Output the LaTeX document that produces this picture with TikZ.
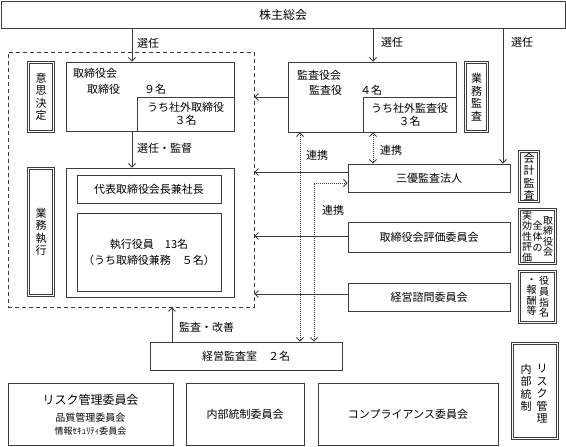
\documentclass[tikz,border=0pt]{standalone}
\usepackage{fontspec}
\setmainfont{Noto Sans CJK JP}
\usetikzlibrary{arrows.meta,calc,fit}
\definecolor{lc}{RGB}{60,60,60}
\begin{document}
\begin{tikzpicture}[x=1pt,y=-1pt,
  box/.style={draw=lc, line width=0.9pt, rectangle, inner sep=0pt},
  dbox/.style={draw=lc, double=white, double distance=1.6pt, line width=0.7pt, rectangle, inner sep=0pt},
  t/.style={font=\fontsize{11}{13}\selectfont, inner sep=0pt, text=black, align=center},
  big/.style={font=\fontsize{12}{14}\selectfont, inner sep=0pt, text=black, align=center},
  vt/.style={font=\fontsize{11}{12.5}\selectfont, align=center, inner sep=0pt},
  vs/.style={font=\fontsize{10}{10.6}\selectfont, align=center, inner sep=0pt},
  tip/.tip={Straight Barb[length=3.5pt,width=7pt,line width=0.8pt]},
  arr/.style={draw=lc, line width=0.8pt, -tip},
  darr/.style={draw=lc, line width=0.7pt, dash pattern=on 1pt off 1pt, tip-tip},
  dashbox/.style={draw=lc, line width=0.8pt, dash pattern=on 4pt off 3pt, rectangle, inner sep=0pt}
]
\useasboundingbox (0,0) rectangle (566,447);

% boxes
\node[box, fit={(1,1)(565,28)}] (sh) {};
\node[big] (shT) at (sh.center) {株主総会};
\node[dashbox, fit={(8,52)(254,307)}] (dash) {};

\node[dbox, fit={(28.5,62.5)(53.5,131.5)}] (ishi) {};
\node[vt] (ishiT) at (ishi.center) {意\\思\\決\\定};
\node[dbox, fit={(28.5,168.5)(53.5,295.5)}] (gsk) {};
\node[vt] (gskT) at (gsk.center) {業\\務\\執\\行};

\node[box, fit={(66,62)(234,131)}] (tori) {};
\node[box, fit={(137,97)(234,131)}] (torisha) {};
\node[t, anchor=west] (toriT1) at (73,73) {取締役会};
\node[t, anchor=west] (toriT2) at (87,89) {取締役};
\node[t, anchor=west] (toriT3) at (144,89) {９名};
\node[t] (torishaT) at (torisha.center) {うち社外取締役\\３名};

\node[box, fit={(66,168)(234,297)}] (exec) {};
\node[box, fit={(77,175)(221,203)}] (daihyo) {};
\node[t] (daihyoT) at (daihyo.center) {代表取締役会長兼社長};
\node[box, fit={(77,213)(221,291)}] (shikko) {};
\node[t, font=\fontsize{11}{16}\selectfont] (shikkoT) at (shikko.center) {執行役員　13名\\（うち取締役兼務　５名）};

\node[box, fit={(288,62)(456,132)}] (kansa) {};
\node[box, fit={(363,97)(456,132)}] (kansasha) {};
\node[t, anchor=west] (kansaT1) at (297,75) {監査役会};
\node[t, anchor=west] (kansaT2) at (309,90) {監査役};
\node[t, anchor=west] (kansaT3) at (360,90) {４名};
\node[t] (kansashaT) at (kansasha.center) {うち社外監査役\\３名};

\node[dbox, fit={(465.5,62.5)(487.5,131.5)}] (gkan) {};
\node[vt] (gkanT) at (gkan.center) {業\\務\\監\\査};

\node[box, fit={(348,164)(510,192)}] (sanyu) {};
\node[t] (sanyuT) at (sanyu.center) {三優監査法人};
\node[box, fit={(348,222)(510,252)}] (hyoka) {};
\node[t] (hyokaT) at (hyoka.center) {取締役会評価委員会};
\node[box, fit={(348,283)(510,311)}] (shimon) {};
\node[t] (shimonT) at (shimon.center) {経営諮問委員会};

\node[dbox, fit={(519.5,151.5)(538.5,201.5)}] (kaikei) {};
\node[vt] (kaikeiT) at (kaikei.center) {会\\計\\監\\査};

\node[dbox, fit={(519.5,209.5)(555.5,263.5)}] (jikko) {};
\node[vs] (jikkoA) at (548,236.5) {取\\締\\役\\会};
\node[vs] (jikkoB) at (537.5,236.5) {全\\体\\の};
\node[vs] (jikkoC) at (527,236.5) {実\\効\\性\\評\\価};

\node[dbox, fit={(519.5,271.5)(555.5,322.5)}] (yakuin) {};
\node[vs] (yakuinA) at (544,297) {役\\員\\指\\名};
\node[vs] (yakuinB) at (531.5,297) {・\\報\\酬\\等};

\node[dbox, fit={(512.5,343.5)(557.5,438.5)}] (riskb) {};
\node[vt, anchor=north] (riskA) at (542,364) {リ\\ス\\ク\\管\\理};
\node[vt, anchor=north] (riskB) at (526,364) {内\\部\\統\\制};

\node[box, fit={(150,342)(342,370)}] (keiei) {};
\node[t] (keieiT) at (keiei.center) {経営監査室　２名};

\node[box, fit={(8,383)(173,445)}] (riskc) {};
\node[big] (riskcT1) at (90.5,400) {リスク管理委員会};
\node[t, font=\fontsize{10}{11}\selectfont] (riskcT2) at (90.5,418) {品質管理委員会};
\node[t, font=\fontsize{9}{10}\selectfont] (riskcT3) at (90.5,431) {情報ｾｷｭﾘﾃｨ委員会};
\node[box, fit={(186,383)(304,445)}] (naibu) {};
\node[t] (naibuT) at (naibu.center) {内部統制委員会};
\node[box, fit={(318,383)(498,445)}] (comp) {};
\node[t] (compT) at (comp.center) {コンプライアンス委員会};

% helper coordinates
\coordinate (a1) at (132,0);
\coordinate (a2) at (373,0);
\coordinate (a3) at (503,0);
\coordinate (a4) at (172,0);
\coordinate (h1) at (0,97);
\coordinate (h2) at (0,172);
\coordinate (h3) at (0,236);
\coordinate (h4) at (0,294);
\coordinate (d1) at (300,0);
\coordinate (d2) at (314,183);

% solid arrows
\draw[arr] (sh.south -| a1) -- (tori.north -| a1);
\draw[arr] (tori.south -| a1) -- (exec.north -| a1);
\draw[arr] (sh.south -| a2) -- (kansa.north -| a2);
\draw[arr] (sh.south -| a3) -- (sanyu.north -| a3);
\draw[arr] (keiei.north -| a4) -- (dash.south -| a4);
\draw[arr] (kansa.west |- h1) -- (dash.east |- h1);
\draw[arr] (sanyu.west |- h2) -- (dash.east |- h2);
\draw[arr] (hyoka.west |- h3) -- (dash.east |- h3);
\draw[arr] (shimon.west |- h4) -- (dash.east |- h4);

% dotted
\draw[darr] (kansa.south -| d1) -- (keiei.north -| d1);
\draw[darr] (kansa.south -| a2) -- (sanyu.north -| a2);
\draw[darr] (sanyu.west |- d2) -- (d2) -- (keiei.north -| d2);

% labels
\node[t, anchor=west] (l1) at (137,43) {選任};
\node[t, anchor=west] (l2) at (381,42) {選任};
\node[t, anchor=west] (l3) at (511,42) {選任};
\node[t, anchor=west] (l4) at (137,148) {選任・監督};
\node[t, anchor=west] (l5) at (179,327) {監査・改善};
\node[t] (l6) at (317,155) {連携};
\node[t] (l7) at (391,150) {連携};
\node[t] (l8) at (333,210) {連携};
\end{tikzpicture}
\end{document}
